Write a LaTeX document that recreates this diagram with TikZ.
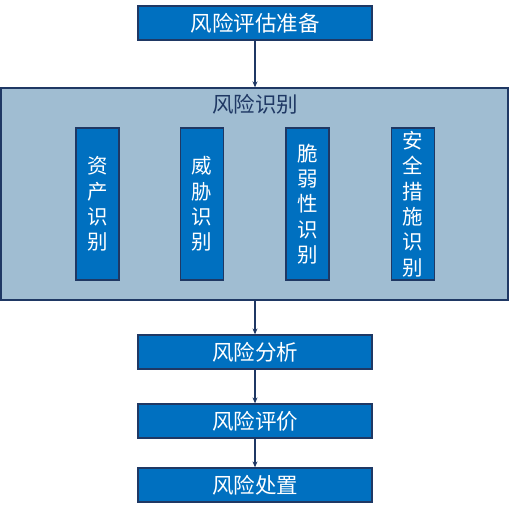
\documentclass[tikz,border=0pt]{standalone}
\usepackage{fontspec}
\newfontfamily\cjk{Noto Sans CJK SC}
\usetikzlibrary{arrows.meta}
\definecolor{boxblue}{RGB}{0,112,192}
\definecolor{navy}{RGB}{31,56,100}
\definecolor{panel}{RGB}{160,189,210}
\begin{document}
\begin{tikzpicture}[x=1pt,y=-1pt,
  stepbox/.style={draw=navy,line width=1.3pt,fill=boxblue,text=white,font=\cjk\fontsize{21.5}{24}\selectfont,minimum width=234pt,minimum height=34pt,inner sep=0pt},
  barbox/.style={draw=navy,line width=1.3pt,fill=boxblue,text=white,font=\cjk\fontsize{20.5}{25.3}\selectfont,minimum width=43pt,minimum height=152pt,inner sep=0pt,align=center},
  conn/.style={draw=navy,line width=1.5pt,-{Stealth[length=6pt,width=5pt]}}]
\useasboundingbox (0,0) rectangle (510,508);
\node[stepbox] (prep) at (255,23) {风险评估准备};
\node[draw=navy,line width=1.3pt,fill=panel,minimum width=507pt,minimum height=212pt,inner sep=0pt] (ident) at (254.5,194) {};
\node[font=\cjk\fontsize{21.5}{24}\selectfont,text=navy] (identt) at (255,104) {风险识别};
\node[barbox] (b1) at (97.5,204) {资\\产\\识\\别};
\node[barbox] (b2) at (202,204) {威\\胁\\识\\别};
\node[barbox] (b3) at (307.5,204) {脆\\弱\\性\\识\\别};
\node[barbox] (b4) at (413,204) {安\\全\\措\\施\\识\\别};
\node[stepbox] (ana) at (255,352) {风险分析};
\node[stepbox] (eva) at (255,421) {风险评价};
\node[stepbox] (tre) at (255,485) {风险处置};
\draw[conn] (prep) -- (prep|-ident.north);
\draw[conn] (ident.south-|ana) -- (ana);
\draw[conn] (ana) -- (eva);
\draw[conn] (eva) -- (tre);
\end{tikzpicture}
\end{document}
